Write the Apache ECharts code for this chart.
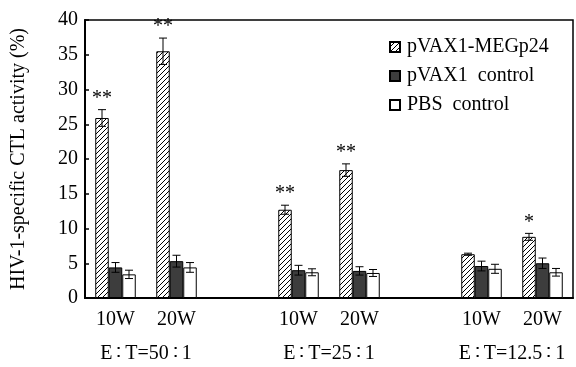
<!DOCTYPE html>
<html>
<head>
<meta charset="utf-8">
<script src="https://cdn.jsdelivr.net/npm/echarts@6/dist/echarts.min.js"></script>
<style>
  html, body { margin: 0; padding: 0; background: #fff; }
  #main { width: 576px; height: 367px; }
</style>
</head>
<body>
<div id="main"></div>
<script>
// data
var categories = ['10W', '20W', '', '10W', '20W', '', '10W', '20W'];
var groupLabels = { 1: 'E\u2009\u2236\u2009T=50\u2009\u2236\u20091', 4: 'E\u2009\u2236\u2009T=25\u2009\u2236\u20091', 7: 'E\u2009\u2236\u2009T=12.5\u2009\u2236\u20091' };
var seriesNames = ['pVAX1-MEGp24', 'pVAX1  control', 'PBS  control'];
var megp24 = [25.9, 35.5, null, 12.7, 18.4, null, 6.3, 8.8];
var megp24Err = [1.2, 1.9, null, 0.65, 0.9, null, 0.15, 0.5];
var pvax = [4.4, 5.3, null, 4.0, 3.9, null, 4.6, 5.0];
var pvaxErr = [0.7, 0.85, null, 0.7, 0.6, null, 0.7, 0.75];
var pbs = [3.4, 4.4, null, 3.7, 3.6, null, 4.2, 3.7];
var pbsErr = [0.6, 0.7, null, 0.5, 0.5, null, 0.65, 0.55];
var signif = ['**', '**', '', '**', '**', '', '', '*'];

var font = 'Liberation Serif';
var fs = 20;
var barW = 13.5;

// hatch pattern  "/"
var hatch = document.createElement('canvas');
hatch.width = 5; hatch.height = 5;
var hc = hatch.getContext('2d');
hc.fillStyle = '#fff';
hc.fillRect(0, 0, 5, 5);
hc.strokeStyle = '#000';
hc.lineWidth = 1;
hc.beginPath();
hc.moveTo(-1, 6); hc.lineTo(6, -1);
hc.moveTo(-1, 1); hc.lineTo(1, -1);
hc.moveTo(4, 6); hc.lineTo(6, 4);
hc.stroke();

var errData = function (vals, errs) {
  var out = [];
  for (var i = 0; i < vals.length; i++) {
    if (vals[i] == null) continue;
    out.push([i, vals[i], errs[i]]);
  }
  return out;
};

var errRender = function (k) {
  return function (params, api) {
    var idx = api.value(0), v = api.value(1), e = api.value(2);
    var sig = k === 0 ? signif[idx] : '';
    var c = api.coord([idx, v]);
    var x = c[0] + (k - 1) * barW;
    var hi = api.coord([idx, v + e])[1];
    var lo = api.coord([idx, v - e])[1];
    var st = { stroke: '#000', lineWidth: 1 };
    var kids = [
      { type: 'line', shape: { x1: x, y1: hi, x2: x, y2: lo }, style: st },
      { type: 'line', shape: { x1: x - 4, y1: hi, x2: x + 4, y2: hi }, style: st },
      { type: 'line', shape: { x1: x - 4, y1: lo, x2: x + 4, y2: lo }, style: st }
    ];
    if (sig) {
      kids.push({ type: 'text', style: { text: sig, x: x, y: hi - 1, align: 'center', verticalAlign: 'bottom',
        fontSize: fs, fontFamily: font, fill: '#000' } });
    }
    return { type: 'group', children: kids };
  };
};

var chart = echarts.init(document.getElementById('main'));
chart.setOption({
  animation: false,
  textStyle: { fontFamily: font, color: '#000' },
  grid: { left: 85, right: 2, top: 20, bottom: 69, show: true, borderColor: '#000', borderWidth: 1.5 },
  legend: {
    orient: 'vertical',
    left: 384, top: 32,
    itemWidth: 10, itemHeight: 10,
    itemGap: 9,
    icon: 'rect',
    textStyle: { fontSize: fs, fontFamily: font, color: '#000', padding: [0, 0, 0, 2] },
    data: seriesNames
  },
  xAxis: [
    {
      type: 'category',
      data: categories,
      axisLine: { lineStyle: { color: '#000', width: 2 } },
      axisTick: { inside: true, length: 5, lineStyle: { color: '#000', width: 2 } },
      axisLabel: { fontSize: fs, fontFamily: font, color: '#000', margin: 12, interval: 0 }
    },
    {
      type: 'value',
      position: 'bottom',
      min: 0, max: 8, interval: 1,
      axisLine: { show: false },
      axisTick: { show: false },
      splitLine: { show: false },
      axisLabel: {
        fontSize: fs, fontFamily: font, color: '#000', margin: 46,
        formatter: function (v) { return groupLabels[v] || ''; }
      }
    }
  ],
  yAxis: {
    type: 'value',
    min: 0, max: 40, interval: 5,
    name: 'HIV-1-specific CTL activity (%)',
    nameLocation: 'middle',
    nameGap: 56,
    nameTextStyle: { fontSize: fs, fontFamily: font, color: '#000' },
    axisLine: { show: true, lineStyle: { color: '#000', width: 2 } },
    axisTick: { inside: true, length: 4, lineStyle: { color: '#000', width: 1.5 } },
    splitLine: { show: false },
    axisLabel: { fontSize: fs, fontFamily: font, color: '#000', margin: 7 }
  },
  series: [
    { name: seriesNames[0], type: 'bar', data: megp24, barWidth: barW, barGap: 0,
      itemStyle: { color: { image: hatch, repeat: 'repeat' }, borderColor: '#000', borderWidth: 1 } },
    { name: seriesNames[1], type: 'bar', data: pvax, barWidth: barW, barGap: 0,
      itemStyle: { color: '#3d3d3d', borderColor: '#000', borderWidth: 1 } },
    { name: seriesNames[2], type: 'bar', data: pbs, barWidth: barW, barGap: 0,
      itemStyle: { color: '#fff', borderColor: '#000', borderWidth: 1 } },
    { type: 'custom', renderItem: errRender(0), data: errData(megp24, megp24Err), z: 5 },
    { type: 'custom', renderItem: errRender(1), data: errData(pvax, pvaxErr), z: 5 },
    { type: 'custom', renderItem: errRender(2), data: errData(pbs, pbsErr), z: 5 }
  ]
});
</script>
</body>
</html>
